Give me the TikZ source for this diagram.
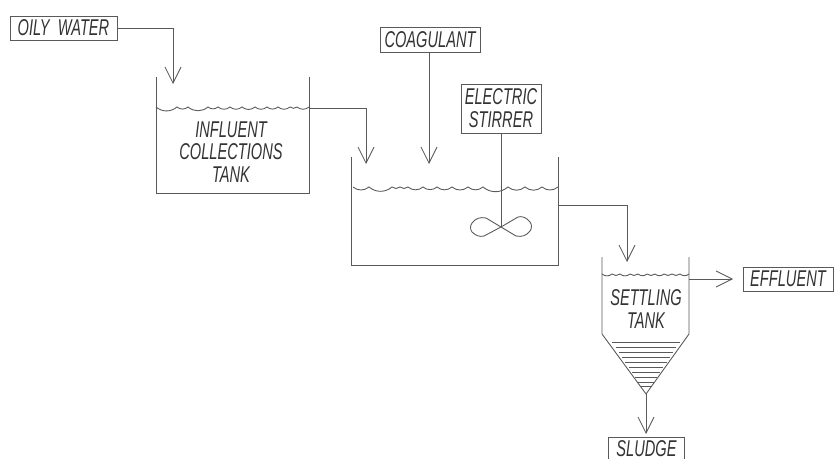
\documentclass[tikz,border=0pt]{standalone}
\usepackage{fontspec}
\setmainfont{Liberation Sans}[FakeStretch=0.64]
\usepackage{tikz}
\usetikzlibrary{arrows.meta,positioning,calc}

\tikzset{
    plant/.style={line width=0.5pt, black!65},
    flowline/.style={plant, -{Straight Barb[length=3.2mm, width=3.2mm, line width=0.5pt]}},
    tag/.style={draw=black!65, line width=0.5pt, inner sep=0pt, text=black!80, align=center,
        font=\fontsize{13}{13}\selectfont\itshape},
    tanktext/.style={inner sep=0pt, text=black!80, align=center,
        font=\fontsize{13}{13}\selectfont\itshape},
}

\begin{document}
\begin{tikzpicture}[x=0.02cm, y=-0.02cm]
    \useasboundingbox (0, 0) rectangle (834, 459);

    % Collections tank
    \draw[plant] (156, 77) -- (156, 193) -- (309, 193) -- (309, 77);
    \draw[plant] (156, 107) \foreach \x in {177,188,208,218,230,242,255,267,278,290,297,309} {to[bend right=40] (\x, 107)};
    \node[tanktext] (collect) at (231, 152) {INFLUENT\\COLLECTIONS\\TANK};
    \coordinate (collectin) at (173, 84);
    \coordinate (collectout) at (309, 108);

    % Mixing tank
    \draw[plant] (351, 157) -- (351, 265) -- (558, 265) -- (558, 157);
    \draw[plant] (353, 187) \foreach \x in {369,392,400,408,423,437,452,468,483,508,525,542,558} {to[bend right=40] (\x, 187)};
    \coordinate (mixin) at (366, 164);
    \coordinate (coagin) at (429, 164);
    \coordinate (mixout) at (558, 205);

    % Settling tank
    \draw[plant] (602, 257) -- (602, 334) -- (646, 394) -- (689, 334) -- (689, 257);
    \draw[plant] (602, 274) \foreach \x in {612,620,630,638,647,655,664,672,680,689} {to[bend right=40] (\x, 274)};
    \node[tanktext] (settle) at (646, 309) {SETTLING\\TANK};
    \coordinate (settlein) at (627, 262);
    \coordinate (settleout) at (689, 279);
    \coordinate (apex) at (646, 394);
    \coordinate (effluentend) at (733, 279);
    \coordinate (sludgeend) at (646, 434);

    % Sludge layer
    \foreach \y in {342,347,352,357,362,367,372,377,382,386}
        \draw[plant] ({646-(394-\y)*0.645}, \y) -- ({646+(394-\y)*0.645}, \y);

    % Labels
    \node[tag, minimum width=2.14cm, minimum height=0.48cm] (oily) at (63.5, 28) {OILY\ \ WATER};
    \node[tag, minimum width=2cm, minimum height=0.5cm] (coag) at (430, 39.5) {COAGULANT};
    \node[tag, minimum width=1.6cm, minimum height=0.98cm] (stirrer) at (501, 108.5) {ELECTRIC\\STIRRER};
    \node[tag, minimum width=1.8cm, minimum height=0.48cm] (effluent) at (788, 279) {EFFLUENT};
    \node[tanktext, minimum width=1.5cm, minimum height=0.42cm] (sludge) at (646.5, 448.5) {SLUDGE};
    \draw[plant] (sludge.south west) |- (sludge.north east) -- (sludge.south east);

    % Flows
    \draw[flowline] (oily.east) -| (collectin);
    \draw[flowline] (collectout) -| (mixin);
    \draw[flowline] (coag.south -| coagin) -- (coagin);
    \draw[flowline] (mixout) -| (settlein);
    \draw[flowline] (settleout) -- (effluentend);
    \draw[flowline] (apex) -- (sludgeend);

    % Stirrer
    \coordinate (hub) at (501, 227);
    \draw[plant] (stirrer.south) -- (hub);
    \draw[plant] (hub) -- (518, 217) .. controls (522, 216) and (526, 217) .. (530, 222)
        .. controls (532, 225) and (532, 228) .. (530, 231)
        .. controls (526, 236) and (522, 237) .. (516, 236) -- (486, 218)
        .. controls (480, 217) and (476, 218) .. (472, 223)
        .. controls (470, 226) and (470, 229) .. (472, 232)
        .. controls (476, 236) and (480, 237) .. (484, 236) -- (hub);
\end{tikzpicture}
\end{document}
